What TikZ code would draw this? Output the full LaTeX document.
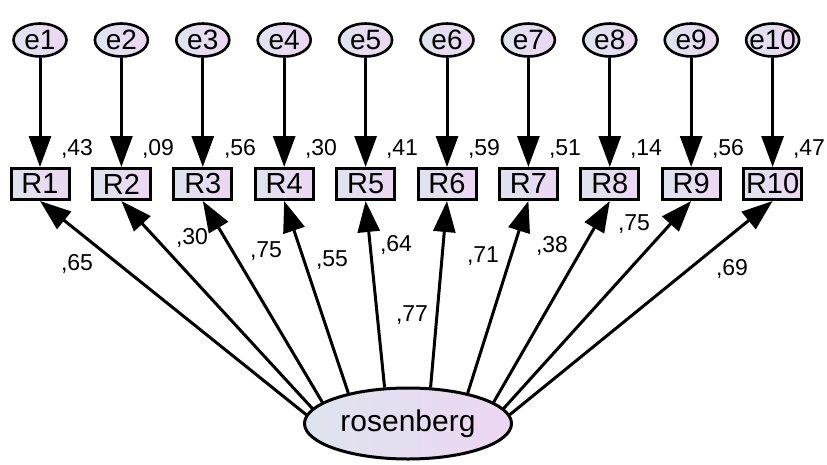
\documentclass[tikz,border=0pt]{standalone}
\usepackage{fontspec}
\setmainfont{Liberation Sans}
\usetikzlibrary{arrows.meta,shapes.geometric}
\definecolor{gl}{RGB}{222,228,238}
\definecolor{gr}{RGB}{237,214,243}
\begin{document}
\begin{tikzpicture}[x=1pt,y=-1pt,
  errnode/.style={ellipse, draw, line width=2.6pt, left color=gl, right color=gr,
    minimum width=53pt, minimum height=33pt, inner sep=0pt},
  errtext/.style={font=\fontsize{28}{28}\selectfont},
  obsnode/.style={rectangle, draw, line width=3pt, left color=gl, right color=gr,
    minimum width=58pt, minimum height=31pt, inner sep=0pt,
    font=\fontsize{29}{29}\selectfont},
  latnode/.style={ellipse, draw, line width=3pt, left color=gl, right color=gr,
    minimum width=207pt, minimum height=71pt, inner sep=0pt,
    font=\fontsize{30}{30}\selectfont},
  val/.style={font=\fontsize{23}{23}\selectfont, inner sep=0pt},
  arr/.style={line width=3pt, -{Triangle[length=31pt,width=22pt]}}
]
\useasboundingbox (0,0) rectangle (827,464);
% error terms and observed variables
\foreach \i in {1,...,10} {
  \pgfmathsetmacro{\xx}{40+81.4*(\i-1)}
  \node[errnode, label={[errtext]center:e\i}] (e\i) at (\xx,40) {};
  \node[obsnode] (R\i) at (\xx,184) {R\i};
  \draw[arr] (e\i) -- (R\i);
}
% squared multiple correlations
\node[val] (v1)  at (77,149)  {,43};
\node[val] (v2)  at (158,149) {,09};
\node[val] (v3)  at (240,149) {,56};
\node[val] (v4)  at (321,149) {,30};
\node[val] (v5)  at (402,149) {,41};
\node[val] (v6)  at (484,149) {,59};
\node[val] (v7)  at (565,149) {,51};
\node[val] (v8)  at (646,149) {,14};
\node[val] (v9)  at (728,149) {,56};
\node[val] (v10) at (809,149) {,47};
% latent variable
\node[latnode] (ros) at (408,423.5) {rosenberg};
\draw[arr] (ros.175) -- (R1.south);
\draw[arr] (ros.171) -- (R2.south);
\draw[arr] (ros.166) -- (R3.south);
\draw[arr] (ros.153) -- (R4.south);
\draw[arr] (ros.123) -- (R5.south);
\draw[arr] (ros.58)  -- (R6.south);
\draw[arr] (ros.27)  -- (R7.south);
\draw[arr] (ros.14)  -- (R8.south);
\draw[arr] (ros.9)   -- (R9.south);
\draw[arr] (ros.5)   -- (R10.south);
% loadings
\node[val] (l1)  at (77,264)  {,65};
\node[val] (l2)  at (192,238) {,30};
\node[val] (l3)  at (266,251) {,75};
\node[val] (l4)  at (332,260) {,55};
\node[val] (l5)  at (396,245) {,64};
\node[val] (l6)  at (483,256) {,71};
\node[val] (l7)  at (552,246) {,38};
\node[val] (l8)  at (634,224) {,75};
\node[val] (l9)  at (732,269) {,69};
\node[val] (l10) at (412,315) {,77};
\end{tikzpicture}
\end{document}
